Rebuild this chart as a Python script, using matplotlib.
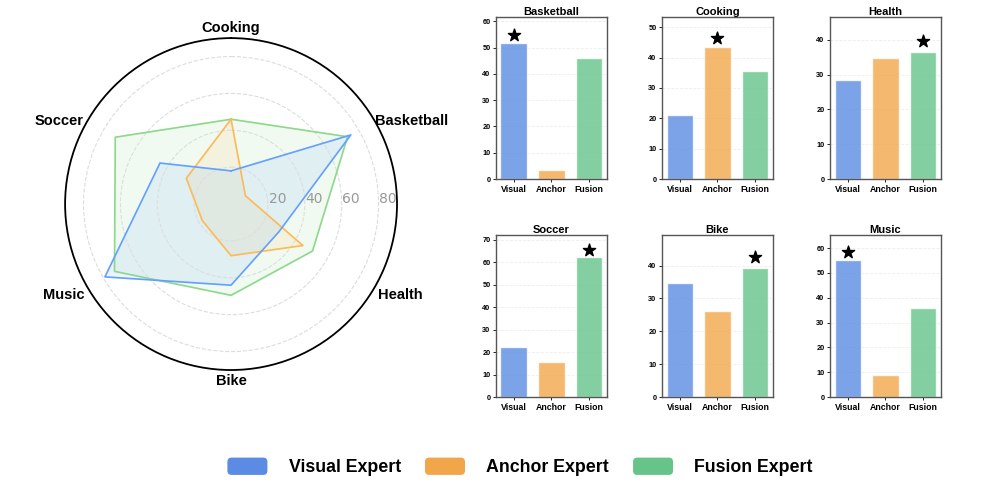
import numpy as np
import matplotlib
matplotlib.use('Agg')
import matplotlib.pyplot as plt
from matplotlib.patches import Patch, FancyBboxPatch
from matplotlib.legend_handler import HandlerPatch
from matplotlib.ticker import MultipleLocator

plt.rcParams['font.family'] = ['Liberation Sans', 'DejaVu Sans']

# radar data (clockwise from top)
radar_cats = ['Cooking', 'Basketball', 'Health', 'Bike', 'Music', 'Soccer']
radar_visual = [18, 75, 30, 44, 79, 44.5]
radar_anchor = [46, 9, 45, 28, 18, 28]
radar_fusion = [46, 73, 51, 49.5, 73, 72.5]
radar_rings = [20, 40, 60, 80]

# bar data
bar_tasks = ['Basketball', 'Cooking', 'Health', 'Soccer', 'Bike', 'Music']
bar_labels = ['Visual', 'Anchor', 'Fusion']
bar_visual = [51.7, 21.1, 28.4, 22.4, 34.7, 55.3]
bar_anchor = [3.3, 43.4, 34.9, 15.8, 26.3, 8.8]
bar_fusion = [46.0, 35.7, 36.6, 62.2, 39.3, 35.8]

line_colors = ['#64a0ff', '#ffb955', '#8cd98c']
bar_colors = ['#5b8be3', '#f2a64a', '#66c48a']


class RoundHandler(HandlerPatch):
    def create_artists(self, legend, orig_handle, xdescent, ydescent, width, height, fontsize, trans):
        p = FancyBboxPatch((-xdescent, -ydescent), width, height,
                           boxstyle='round,pad=0,rounding_size=3',
                           facecolor=orig_handle.get_facecolor(), edgecolor='none', transform=trans)
        return [p]


fig = plt.figure(figsize=(9.87, 4.91), dpi=100)

# ---- radar ----
ax = fig.add_axes([0.0659, 0.2464, 0.3364, 0.676], projection='polar')
ax.set_theta_offset(np.pi / 2)
ax.set_theta_direction(-1)
angles = np.linspace(0, 2 * np.pi, len(radar_cats), endpoint=False)
closed = np.concatenate([angles, angles[:1]])
for vals, c in zip([radar_fusion, radar_anchor, radar_visual], [line_colors[2], line_colors[1], line_colors[0]]):
    v = list(vals) + [vals[0]]
    ax.plot(closed, v, color=c, linewidth=1.2)
    ax.fill(closed, v, color=c, alpha=0.12)
ax.set_ylim(0, 90)
ax.set_yticks(radar_rings)
ax.set_yticklabels([])
for r in radar_rings:
    ax.annotate(str(r), xy=(np.pi / 2, r), xytext=(0.5, 3.5), textcoords='offset points',
                ha='left', va='center', color='#999999', fontsize=10, family='DejaVu Sans')
ax.set_xticks(angles)
ax.set_xticklabels([])
# category labels just outside the circle
lab_pos = {'Cooking': (0, 2, 'center', 'bottom'), 'Basketball': (0, 0, 'left', 'center'),
           'Health': (2, -1, 'left', 'top'), 'Bike': (0, -3, 'center', 'top'),
           'Music': (-2, -1, 'right', 'top'), 'Soccer': (-3, 0, 'right', 'center')}
for a, name in zip(angles, radar_cats):
    dx, dy, ha, va = lab_pos[name]
    ax.annotate(name, xy=(a, 90), xytext=(dx, dy), textcoords='offset points',
                ha=ha, va=va, fontsize=10.5, fontweight='bold', annotation_clip=False)
ax.xaxis.grid(False)
ax.yaxis.grid(True, linestyle='--', color='#dddddd', linewidth=0.8)
ax.spines['polar'].set_linewidth(1.3)
ax.spines['polar'].set_color('black')

# ---- bars ----
lefts = [0.5025, 0.6707, 0.8409]
bottoms = [0.6354, 0.1914]
for i, task in enumerate(bar_tasks):
    row, col = divmod(i, 3)
    bx = fig.add_axes([lefts[col], bottoms[row], 0.1125, 0.33])
    vals = [bar_visual[i], bar_anchor[i], bar_fusion[i]]
    x = np.arange(3)
    bx.bar(x, vals, width=0.7, color=bar_colors, alpha=0.8, edgecolor='white', linewidth=1, zorder=2)
    best = int(np.argmax(vals))
    bx.scatter(best, vals[best] + 3.2, marker='*', s=85, color='black', zorder=3)
    bx.set_ylim(0, max(vals) + 10)
    bx.set_xlim(-0.47, 2.47)
    bx.yaxis.set_major_locator(MultipleLocator(10))
    bx.set_xticks(x)
    bx.set_xticklabels(bar_labels, fontsize=6.3, fontweight='bold')
    for t in bx.get_yticklabels():
        t.set_fontsize(5.3)
        t.set_fontweight('bold')
    bx.tick_params(axis='both', length=2, width=0.6, pad=2)
    bx.set_title(task, fontsize=8, fontweight='bold', pad=1)
    bx.grid(axis='y', linestyle='--', color='#eeeeee', linewidth=0.6, zorder=0)
    for s in bx.spines.values():
        s.set_color('#555555')
        s.set_linewidth(1)

handles = [Patch(facecolor=c, edgecolor=c) for c in bar_colors]
fig.legend(handles, ['Visual Expert', 'Anchor Expert', 'Fusion Expert'],
           loc='center', bbox_to_anchor=(0.527, 0.049), ncol=3, frameon=False,
           prop={'size': 12.8, 'weight': 'bold'}, handlelength=2.25, handleheight=1.12,
           columnspacing=1.35, handletextpad=1.2,
           handler_map={Patch: RoundHandler()})

plt.savefig('out.png', dpi=100)
